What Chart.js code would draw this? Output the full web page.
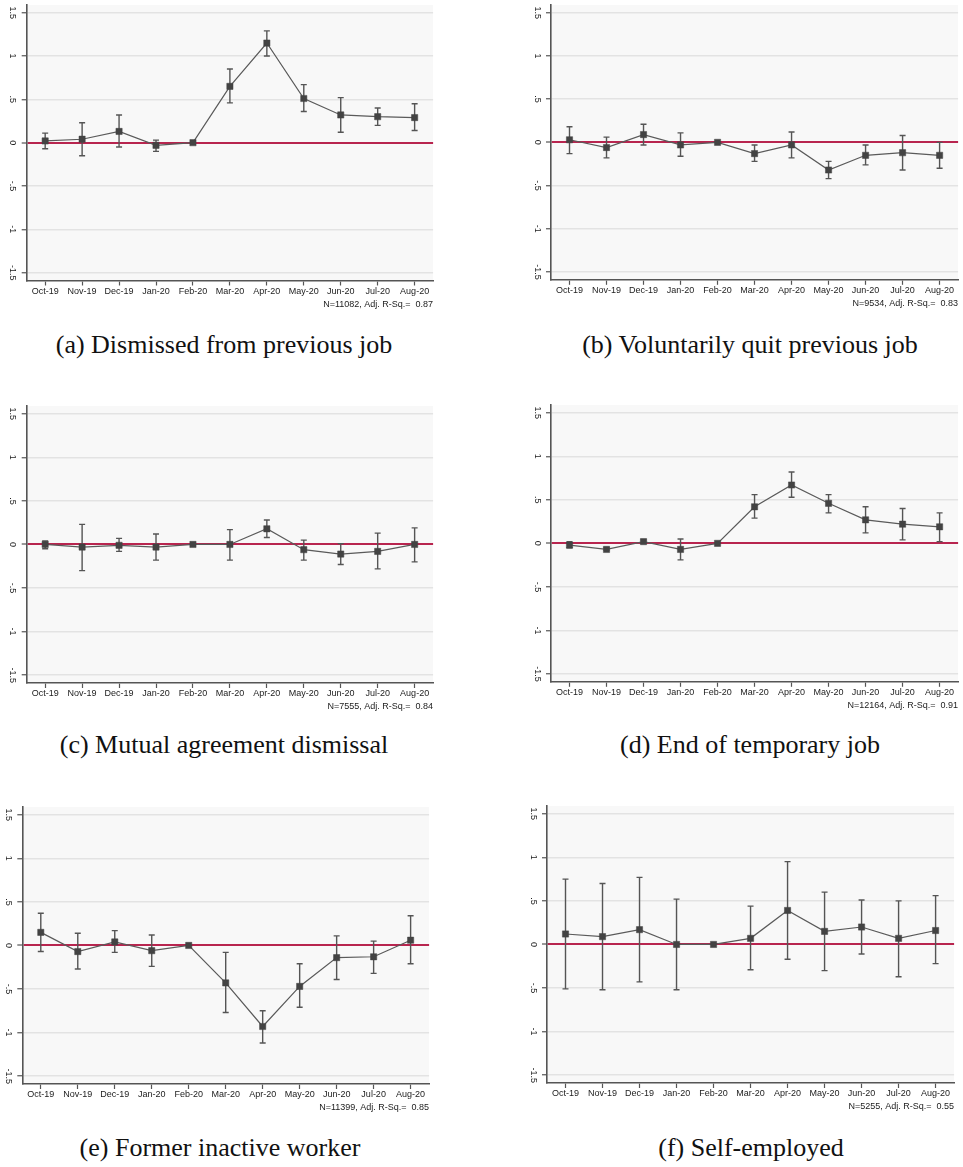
<!DOCTYPE html>
<html>
<head>
<meta charset="utf-8">
<script src="https://cdn.jsdelivr.net/npm/chart.js@4/dist/chart.umd.min.js"></script>
<style>
  html, body { margin: 0; padding: 0; background: #fff; }
  #page { position: relative; width: 963px; height: 1167px; overflow: hidden; background: #fff; }
  canvas { position: absolute; }
  .cap {
    position: absolute; width: 480px; margin-left: -240px; text-align: center;
    font-family: "Liberation Serif", "Times New Roman", serif; font-size: 26px;
    line-height: 26px; color: #111; white-space: nowrap;
  }
</style>
</head>
<body>
<div id="page"></div>
<script>
// Event-study coefficients by month (reference month Feb-20), with 95% CIs.
const categories = ['Oct-19','Nov-19','Dec-19','Jan-20','Feb-20','Mar-20','Apr-20','May-20','Jun-20','Jul-20','Aug-20'];
const yTickValues = [-1.5, -1, -0.5, 0, 0.5, 1, 1.5];
const yTickLabels = ['-1.5', '-1', '-.5', '0', '.5', '1', '1.5'];

// (a) Dismissed from previous job
const coefA = [0.02, 0.04, 0.13, -0.03, 0, 0.65, 1.15, 0.51, 0.32, 0.30, 0.29];
const loA   = [-0.07, -0.15, -0.05, -0.10, null, 0.46, 1.00, 0.36, 0.12, 0.20, 0.14];
const hiA   = [0.11, 0.23, 0.32, 0.03, null, 0.85, 1.29, 0.67, 0.52, 0.40, 0.45];

// (b) Voluntarily quit previous job
const coefB = [0.03, -0.06, 0.09, -0.03, 0, -0.13, -0.03, -0.32, -0.15, -0.12, -0.15];
const loB   = [-0.13, -0.18, -0.03, -0.16, null, -0.22, -0.18, -0.42, -0.26, -0.32, -0.30];
const hiB   = [0.18, 0.06, 0.21, 0.11, null, -0.03, 0.12, -0.22, -0.03, 0.08, 0.00];

// (c) Mutual agreement dismissal
const coefC = [0.00, -0.03, -0.01, -0.03, 0, 0.00, 0.18, -0.06, -0.11, -0.08, 0.00];
const loC   = [-0.05, -0.30, -0.08, -0.18, null, -0.18, 0.08, -0.18, -0.23, -0.28, -0.20];
const hiC   = [0.04, 0.23, 0.07, 0.12, null, 0.17, 0.28, 0.05, 0.01, 0.13, 0.19];

// (d) End of temporary job
const coefD = [-0.02, -0.07, 0.02, -0.07, 0, 0.42, 0.67, 0.46, 0.27, 0.22, 0.19];
const loD   = [-0.05, -0.08, 0.00, -0.19, null, 0.29, 0.53, 0.35, 0.12, 0.04, 0.02];
const hiD   = [0.02, -0.05, 0.04, 0.05, null, 0.56, 0.82, 0.56, 0.42, 0.40, 0.35];

// (e) Former inactive worker
const coefE = [0.15, -0.07, 0.04, -0.06, 0, -0.43, -0.93, -0.47, -0.14, -0.13, 0.06];
const loE   = [-0.07, -0.27, -0.08, -0.24, null, -0.77, -1.12, -0.71, -0.39, -0.32, -0.21];
const hiE   = [0.37, 0.14, 0.17, 0.12, null, -0.08, -0.75, -0.21, 0.11, 0.05, 0.34];

// (f) Self-employed
const coefF = [0.12, 0.09, 0.17, 0.00, 0, 0.07, 0.39, 0.15, 0.20, 0.07, 0.16];
const loF   = [-0.51, -0.52, -0.43, -0.52, null, -0.29, -0.17, -0.30, -0.11, -0.37, -0.22];
const hiF   = [0.75, 0.70, 0.77, 0.52, null, 0.44, 0.95, 0.60, 0.51, 0.50, 0.56];

const notes = [
  'N=11082, Adj. R-Sq.=  0.87',
  'N=9534, Adj. R-Sq.=  0.83',
  'N=7555, Adj. R-Sq.=  0.84',
  'N=12164, Adj. R-Sq.=  0.91',
  'N=11399, Adj. R-Sq.=  0.85',
  'N=5255, Adj. R-Sq.=  0.55'
];
const captions = [
  '(a) Dismissed from previous job',
  '(b) Voluntarily quit previous job',
  '(c) Mutual agreement dismissal',
  '(d) End of temporary job',
  '(e) Former inactive worker',
  '(f) Self-employed'
];
const series = [
  { coef: coefA, lo: loA, hi: hiA },
  { coef: coefB, lo: loB, hi: hiB },
  { coef: coefC, lo: loC, hi: hiC },
  { coef: coefD, lo: loD, hi: hiD },
  { coef: coefE, lo: loE, hi: hiE },
  { coef: coefF, lo: loF, hi: hiF }
];

// Page layout: plot box (left, right, bottom axis line) and caption placement.
const boxes = [
  { L: 26.7, R: 436.7, B: 280.5, capX: 224, capTop: 332 },
  { L: 551.0, R: 962.0, B: 279.8, capX: 750, capTop: 332 },
  { L: 26.7, R: 437.0, B: 683.0, capX: 224, capTop: 732 },
  { L: 551.0, R: 962.0, B: 681.8, capX: 750, capTop: 732 },
  { L: 22.3, R: 432.7, B: 1084.0, capX: 220, capTop: 1135 },
  { L: 547.0, R: 958.0, B: 1083.0, capX: 751, capTop: 1135 }
];
const Y_MIN = -1.59, Y_MAX = 1.59;
const UNIT = 87.2;               // px per 1.0 on the y axis
const Y_AXIS_W = 22, X_AXIS_H = 30;

Chart.defaults.font.family = '"Liberation Sans", Arial, sans-serif';
Chart.defaults.font.size = 9;
Chart.defaults.color = '#222';

const plotBackground = {
  id: 'plotBackground',
  beforeDraw(chart) {
    const { ctx, chartArea: a } = chart;
    ctx.save();
    ctx.fillStyle = '#f8f8f8';
    ctx.fillRect(a.left, a.top, a.right - a.left, a.bottom - a.top);
    ctx.restore();
  }
};

const errorBars = {
  id: 'errorBars',
  beforeDatasetsDraw(chart, args, opts) {
    const { ctx } = chart;
    const y = chart.scales.y;
    const meta = chart.getDatasetMeta(0);
    const ds = chart.data.datasets[0];
    ctx.save();
    ctx.strokeStyle = '#555';
    ctx.lineWidth = 1.4;
    meta.data.forEach((pt, i) => {
      const lo = ds.lo[i], hi = ds.hi[i];
      if (lo == null || hi == null) return;
      const yl = y.getPixelForValue(lo), yh = y.getPixelForValue(hi);
      const x = pt.x, c = 3;
      ctx.beginPath();
      ctx.moveTo(x, yl); ctx.lineTo(x, yh);
      ctx.moveTo(x - c, yl); ctx.lineTo(x + c, yl);
      ctx.moveTo(x - c, yh); ctx.lineTo(x + c, yh);
      ctx.stroke();
    });
    ctx.restore();
  }
};

const page = document.getElementById('page');

boxes.forEach((b, k) => {
  const T = b.B - (Y_MAX - Y_MIN) * UNIT;
  const cx = Math.floor(b.L - Y_AXIS_W);
  const cy = Math.max(0, Math.floor(T - 4));
  const w = Math.min(963, Math.ceil(b.R + 1)) - cx;
  const h = Math.ceil(b.B + X_AXIS_H) - cy;
  const padLeft = b.L - Y_AXIS_W - cx;
  const padTop = T - cy;
  const padRight = w - (b.R - cx);
  const padBottom = h - (b.B - cy) - X_AXIS_H;

  const cv = document.createElement('canvas');
  cv.width = w; cv.height = h;
  cv.style.left = cx + 'px'; cv.style.top = cy + 'px';
  cv.style.width = w + 'px'; cv.style.height = h + 'px';
  page.appendChild(cv);

  const cap = document.createElement('div');
  cap.className = 'cap';
  cap.style.left = b.capX + 'px';
  cap.style.top = b.capTop + 'px';
  cap.textContent = captions[k];
  page.appendChild(cap);

  const s = series[k];
  new Chart(cv.getContext('2d'), {
    type: 'line',
    data: {
      labels: categories,
      datasets: [{
        data: s.coef,
        lo: s.lo,
        hi: s.hi,
        borderColor: '#5a5a5a',
        borderWidth: 1.2,
        pointStyle: 'rect',
        pointRadius: 4.4,
        pointBackgroundColor: '#434343',
        pointBorderColor: '#434343',
        pointBorderWidth: 0.5,
        tension: 0,
        fill: false
      }]
    },
    options: {
      responsive: false,
      animation: false,
      devicePixelRatio: 1,
      layout: { padding: { left: padLeft, top: padTop, right: padRight, bottom: padBottom } },
      plugins: { legend: { display: false }, tooltip: { enabled: false }, title: { display: false } },
      scales: {
        x: {
          type: 'category',
          offset: true,
          grid: { drawOnChartArea: false, drawTicks: true, tickLength: 5, tickColor: '#555', tickWidth: 1.2, offset: false },
          border: { display: true, color: '#555', width: 1.6 },
          ticks: { autoSkip: false, maxRotation: 0, minRotation: 0, padding: 0.5, color: '#222', font: { size: 9 } },
          title: { display: true, text: notes[k], align: 'end', color: '#222', font: { size: 9 }, padding: { top: 0, bottom: 0.6 } },
          afterFit(sc) { sc.height = X_AXIS_H; sc.paddingLeft = 0; sc.paddingRight = 0; sc.paddingTop = 0; sc.paddingBottom = 0; }
        },
        y: {
          type: 'linear',
          min: Y_MIN,
          max: Y_MAX,
          afterBuildTicks(sc) { sc.ticks = yTickValues.map(v => ({ value: v })); },
          grid: {
            color: c => (c.tick && c.tick.value === 0) ? '#b8254f' : '#e3e3e3',
            lineWidth: c => (c.tick && c.tick.value === 0) ? 2 : 1.5,
            drawTicks: true, tickLength: 5, tickColor: '#555', tickWidth: 1.2
          },
          border: { display: true, color: '#555', width: 1.6 },
          ticks: {
            autoSkip: false,
            minRotation: -90, maxRotation: -90,
            crossAlign: 'center',
            padding: 1,
            color: '#222',
            font: { size: 9 },
            callback: (v) => yTickLabels[yTickValues.indexOf(v)] ?? ''
          },
          afterFit(sc) { sc.width = Y_AXIS_W; sc.paddingLeft = 0; sc.paddingRight = 0; sc.paddingTop = 0; sc.paddingBottom = 0; }
        }
      }
    },
    plugins: [plotBackground, errorBars]
  });
});
</script>
</body>
</html>
